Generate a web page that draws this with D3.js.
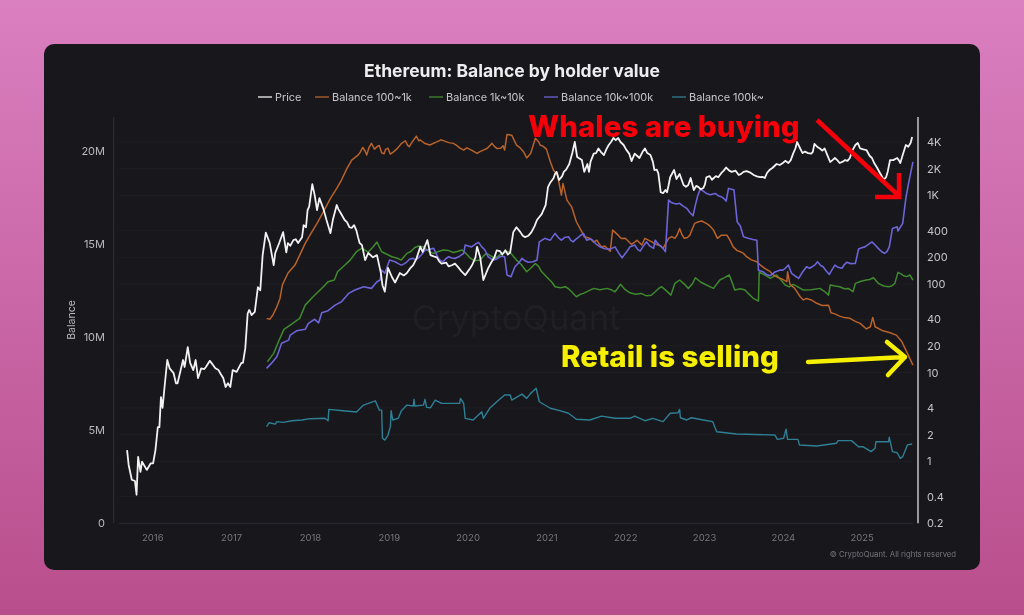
<!DOCTYPE html>
<html>
<head>
<meta charset="utf-8">
<title>Ethereum: Balance by holder value</title>
<script src="https://cdn.jsdelivr.net/npm/d3@7"></script>
<style>
  html, body { margin: 0; padding: 0; width: 1024px; height: 615px; overflow: hidden; }
  body { background: linear-gradient(#da7fc0, #b94e8c); }
  svg { display: block; font-family: Inter, "Liberation Sans", sans-serif; filter: blur(0.3px); }
</style>
</head>
<body>
<svg id="chart" width="1024" height="615"></svg>
<script>
// values: [year, price in USD] and [year, balance in millions]
var yearTicks = [2016, 2017, 2018, 2019, 2020, 2021, 2022, 2023, 2024, 2025];
var balanceTicks = [0, 5, 10, 15, 20];
var priceTicks = [0.2, 0.4, 1, 2, 4, 10, 20, 40, 100, 200, 400, 1000, 2000, 4000];
var seriesNames = ["Price", "Balance 100~1k", "Balance 1k~10k", "Balance 10k~100k", "Balance 100k~"];

var priceMain = [[2015.68,1.34],[2015.70,0.91],[2015.74,0.62],[2015.78,0.60],[2015.80,0.42],[2015.82,1.12],[2015.85,0.76],[2015.87,0.99],[2015.93,0.80],[2015.98,0.95],
  [2016.01,0.95],[2016.04,1.34],[2016.07,2.43],[2016.09,2.43],[2016.11,5.3],[2016.13,4.0],[2016.16,7.6],[2016.19,13.9],[2016.22,11.2],[2016.27,9.9],[2016.30,7.6],[2016.32,7.6],[2016.36,10.7],[2016.39,13.9],[2016.41,11.6],[2016.45,19.4],[2016.48,12.9],[2016.52,10.7],[2016.55,13.9],[2016.58,8.7],[2016.62,11.2],[2016.68,11.6],[2016.73,13.6],[2016.77,12.2],[2016.84,10.7],[2016.90,8.7],[2016.93,6.9],[2016.96,7.6],[2016.99,6.9],
  [2017.02,10.7],[2017.07,10.2],[2017.13,12.9],[2017.15,12.9],[2017.18,18.9],[2017.21,46.5],[2017.23,51],[2017.26,44.7],[2017.30,48.5],[2017.34,92],[2017.37,85],[2017.40,212],[2017.44,380],[2017.49,290],[2017.54,163],[2017.56,224],[2017.61,290],[2017.66,385],[2017.70,227],[2017.72,290],[2017.79,313],[2017.85,290],[2017.90,338],[2017.92,462],[2017.95,437],[2017.97,683],[2017.99,747],
  [2018.03,1340],[2018.06,1008],[2018.09,683],[2018.12,930],[2018.17,710],[2018.21,527],[2018.26,375],[2018.29,527],[2018.34,778],[2018.39,632],[2018.44,527],[2018.50,437],[2018.56,462],[2018.61,338],[2018.66,275],[2018.70,186],[2018.74,224],[2018.80,200],[2018.85,212],[2018.90,133],[2018.92,97],[2018.95,82],[2018.99,152],
  [2019.04,120],[2019.08,104],[2019.14,133],[2019.23,133],[2019.31,163],[2019.35,192],[2019.40,263],[2019.43,230],[2019.49,313],[2019.53,212],[2019.61,200],[2019.67,170],[2019.73,174],[2019.80,163],[2019.88,155],[2019.97,126],
  [2020.03,150],[2020.10,200],[2020.12,263],[2020.16,200],[2020.20,111],[2020.26,150],[2020.34,200],[2020.41,235],[2020.54,227],[2020.58,385],[2020.62,437],[2020.67,385],[2020.73,338],[2020.81,385],[2020.88,527],[2020.94,615],[2020.99,778],
  [2021.02,1240],[2021.09,1560],[2021.13,1840],[2021.16,1489],[2021.22,1840],[2021.29,2260],[2021.33,3040],[2021.36,4000],[2021.39,2710],[2021.45,2504],[2021.48,1840],[2021.52,2260],[2021.54,1840],[2021.60,2960],[2021.66,3380],[2021.73,2852],[2021.79,3698],[2021.85,4440],[2021.91,4440],[2021.98,3698],
  [2022.05,2960],[2022.08,2440],[2022.12,2960],[2022.18,2640],[2022.25,3380],[2022.32,2852],[2022.37,1931],[2022.42,1770],[2022.45,1085],[2022.48,1060],[2022.53,1085],[2022.57,1600],[2022.62,1931],[2022.65,1530],[2022.69,1740],[2022.74,1308],[2022.80,1308],[2022.83,1570],[2022.87,1148],[2022.93,1240],[2022.99,1210],
  [2023.03,1600],[2023.12,1560],[2023.18,1600],[2023.22,1790],[2023.28,2060],[2023.35,1840],[2023.44,1696],[2023.50,1840],[2023.54,1880],[2023.63,1696],[2023.71,1610],[2023.77,1570],[2023.83,1931],[2023.92,2260],
  [2024.00,2320],[2024.07,2320],[2024.13,2960],[2024.18,4000],[2024.22,3380],[2024.28,3120],[2024.36,2960],[2024.40,3800],[2024.47,3380],[2024.53,3380],[2024.60,2380],[2024.66,2640],[2024.72,2320],[2024.79,2504],[2024.85,2640],[2024.92,3698],[2024.98,3380],
  [2025.06,3248],[2025.13,2640],[2025.19,2090],[2025.26,1610],[2025.31,1610],[2025.36,2504],[2025.45,2640],[2025.49,2320],[2025.52,2852],[2025.56,3698],[2025.59,3540],[2025.64,4550]];
// smaller wiggles estimated between the main turning points
var priceFine = [[2016.60,9.8],[2016.66,11.0],[2016.75,12.9],[2016.80,11.2],[2016.87,9.6],[2017.75,270],[2017.82,320],[2018.36,700],[2018.47,500],[2018.53,430],[2018.59,400],[2018.63,290],
  [2019.19,125],[2019.27,150],[2019.57,205],[2019.64,180],[2019.76,158],[2019.84,170],[2019.92,140],[2020.06,165],[2020.30,175],[2020.37,240],[2020.44,215],[2020.48,240],[2020.51,215],[2020.70,350],[2020.77,350],[2020.85,450],
  [2021.05,1400],[2021.11,1750],[2021.20,1650],[2021.25,1950],[2021.56,2400],[2021.63,3000],[2021.69,3100],[2021.76,3300],[2021.82,4000],[2021.88,4200],[2021.94,4000],[2022.01,3300],[2022.15,2800],[2022.22,3100],[2022.28,3000],[2022.35,2400],[2022.40,1950],
  [2022.51,1150],[2022.55,1300],[2022.77,1250],[2022.90,1280],[2022.96,1170],[2023.01,1320],[2023.07,1650],[2023.10,1500],[2023.15,1650],[2023.25,1900],[2023.32,1900],[2023.40,1900],[2023.47,1750],[2023.58,1820],[2023.67,1640],[2023.74,1620],[2023.80,1800],[2023.87,2050],[2023.96,2200],
  [2024.03,2450],[2024.10,2500],[2024.16,3400],[2024.25,3000],[2024.32,3000],[2024.38,3100],[2024.44,3500],[2024.50,3200],[2024.56,2900],[2024.63,2500],[2024.69,2500],[2024.76,2400],[2024.82,2450],[2024.88,3200],[2024.95,3900],[2025.02,3300],[2025.10,2800],[2025.16,2300],[2025.23,1800],[2025.28,1500],[2025.33,1850],[2025.40,2500],[2025.47,2500],[2025.62,3900]];

var orangeMain = [[2017.45,11.01],[2017.49,10.96],[2017.53,11.19],[2017.58,11.63],[2017.62,12.08],[2017.65,12.80],[2017.72,13.43],[2017.81,13.87],[2017.87,14.41],[2017.94,15.04],
  [2018.00,15.48],[2018.09,16.11],[2018.17,16.73],[2018.26,17.45],[2018.34,17.99],[2018.40,18.44],[2018.47,19.07],[2018.53,19.51],[2018.61,19.78],[2018.67,20.19],[2018.72,19.78],[2018.78,20.41],[2018.85,20.23],[2018.91,19.90],[2018.96,20.09],
  [2019.02,19.83],[2019.11,20.14],[2019.21,20.55],[2019.26,20.23],[2019.35,20.80],[2019.40,20.59],[2019.52,20.32],[2019.61,20.49],[2019.71,20.53],[2019.82,20.41],[2019.90,20.17],[2019.99,20.17],
  [2020.12,19.87],[2020.20,20.05],[2020.31,20.41],[2020.37,20.14],[2020.45,20.28],[2020.47,20.05],[2020.50,20.89],[2020.56,20.85],[2020.62,20.32],[2020.71,19.96],[2020.75,19.63],[2020.80,19.87],[2020.86,20.68],[2020.92,20.32],
  [2021.00,20.10],[2021.05,19.42],[2021.09,18.97],[2021.14,18.71],[2021.19,17.63],[2021.21,18.26],[2021.26,17.36],[2021.32,17.0],[2021.38,16.20],[2021.45,15.66],[2021.48,15.39],[2021.55,15.31],[2021.64,15.21],[2021.70,14.85],[2021.77,14.77],[2021.81,14.62],[2021.84,15.75],[2021.91,15.48],
  [2022.00,15.31],[2022.08,14.98],[2022.15,15.21],[2022.21,14.95],[2022.25,15.31],[2022.34,15.12],[2022.42,14.95],[2022.48,14.77],[2022.55,15.31],[2022.63,15.31],[2022.69,15.84],[2022.75,15.31],[2022.82,15.48],[2022.88,16.11],[2022.97,16.24],
  [2023.05,16.06],[2023.12,15.75],[2023.17,15.31],[2023.22,15.48],[2023.29,15.48],[2023.37,14.85],[2023.46,14.59],[2023.54,14.32],[2023.67,14.05],[2023.77,13.70],[2023.88,13.34],[2023.99,13.12],
  [2024.05,12.98],[2024.06,13.51],[2024.09,12.84],[2024.15,12.62],[2024.22,12.17],[2024.30,12.08],[2024.43,11.82],[2024.58,11.72],[2024.61,11.31],[2024.72,11.13],[2024.85,11.01],[2024.98,10.74],
  [2025.06,10.44],[2025.11,10.56],[2025.14,11.06],[2025.17,10.56],[2025.27,10.34],[2025.44,10.11],[2025.51,9.75],[2025.57,9.22],[2025.65,8.50]];
var orangeFine = [[2018.64,19.95],[2018.70,20.0],[2018.75,20.2],[2018.82,20.1],[2018.88,20.3],[2018.94,19.85],[2018.99,20.15],[2019.06,19.95],[2019.16,20.4],[2019.24,20.3],[2019.30,20.5],[2019.38,20.55],[2019.46,20.4],[2019.56,20.4],[2019.66,20.6],[2019.76,20.45],[2019.86,20.3],[2019.95,20.05],
  [2020.05,20.05],[2020.15,19.95],[2020.25,20.15],[2020.34,20.25],[2020.42,20.15],[2020.66,20.2],[2020.90,20.5],[2020.96,20.25],[2021.60,15.1],[2021.67,15.0],[2021.74,14.9],[2021.95,15.3],[2022.04,15.15],[2022.12,15.1],[2022.30,15.2],[2022.38,15.0],[2022.45,14.9],[2022.59,15.4],[2022.66,15.5],[2022.72,15.5],[2022.79,15.35],[2022.85,15.8],[2022.93,16.2],
  [2023.01,16.15],[2023.09,15.9],[2023.33,15.2],[2023.42,14.65],[2023.50,14.5],[2023.60,14.15],[2023.72,13.85],[2023.83,13.55],[2023.94,13.2],[2024.26,12.0],[2024.36,12.0],[2024.50,11.7],[2024.66,11.25],[2024.78,11.05],[2024.92,10.85],[2025.35,10.25]];

var greenMain = [[2017.46,8.68],[2017.54,9.13],[2017.60,9.75],[2017.67,10.42],[2017.75,10.65],[2017.87,11.01],[2017.94,11.72],
  [2018.04,12.17],[2018.17,12.71],[2018.23,12.98],[2018.31,13.07],[2018.35,13.51],[2018.42,13.78],[2018.51,14.14],[2018.59,14.59],[2018.66,14.78],[2018.74,14.57],[2018.80,14.84],[2018.85,15.11],[2018.91,14.59],
  [2019.04,14.32],[2019.16,14.14],[2019.23,14.50],[2019.33,14.82],[2019.44,14.85],[2019.52,14.57],[2019.57,14.50],[2019.69,14.68],[2019.82,14.55],[2019.93,14.68],
  [2020.03,14.26],[2020.16,14.14],[2020.24,14.50],[2020.35,14.23],[2020.45,14.50],[2020.54,14.55],[2020.62,14.14],[2020.75,13.51],[2020.86,13.96],[2020.94,13.51],
  [2021.02,13.16],[2021.11,12.71],[2021.24,12.71],[2021.32,12.44],[2021.38,12.17],[2021.47,12.35],[2021.60,12.62],[2021.77,12.62],[2021.87,12.44],[2021.94,12.84],
  [2022.06,12.38],[2022.27,12.22],[2022.38,12.44],[2022.46,12.71],[2022.58,12.26],[2022.63,12.89],[2022.69,13.07],[2022.80,12.62],[2022.89,13.19],
  [2023.03,12.80],[2023.12,12.62],[2023.20,13.07],[2023.32,13.34],[2023.39,12.53],[2023.52,12.53],[2023.56,12.35],[2023.69,11.94],[2023.70,13.51],[2023.77,13.34],[2023.84,13.16],[2023.92,13.34],
  [2024.03,12.80],[2024.13,12.84],[2024.26,12.53],[2024.47,12.62],[2024.58,12.26],[2024.60,12.80],[2024.72,12.71],[2024.83,12.62],[2024.89,12.44],[2024.92,12.89],
  [2025.06,13.07],[2025.15,13.19],[2025.21,12.89],[2025.34,12.71],[2025.42,12.89],[2025.46,13.48],[2025.53,13.30],[2025.61,13.34],[2025.65,13.07]];
var greenFine = [[2019.10,14.25],[2019.28,14.6],[2019.38,14.9],[2019.48,14.7],[2019.63,14.6],[2019.76,14.65],[2019.87,14.6],[2019.98,14.5],[2020.09,14.1],[2020.20,14.35],[2020.30,14.35],[2020.40,14.4],[2020.50,14.6],[2020.68,13.9],[2020.80,13.7],[2020.90,13.8],
  [2021.07,12.95],[2021.18,12.65],[2021.28,12.6],[2021.43,12.3],[2021.54,12.5],[2021.68,12.55],[2021.82,12.55],[2021.90,12.6],[2022.00,12.55],[2022.13,12.3],[2022.20,12.35],[2022.33,12.25],[2022.42,12.6],[2022.52,12.5],[2022.75,12.85],[2022.85,12.85],[2022.96,12.95],
  [2023.08,12.7],[2023.16,12.85],[2023.26,13.2],[2023.36,12.9],[2023.46,12.6],[2023.62,12.1],[2024.08,12.7],[2024.19,12.7],[2024.36,12.55],[2024.53,12.45],[2024.66,12.75],[2024.78,12.6],[2024.99,13.0],[2025.10,13.1],[2025.28,12.75],[2025.38,12.75],[2025.50,13.4],[2025.57,13.25]];

var purpleMain = [[2017.45,8.32],[2017.51,8.59],[2017.58,8.95],[2017.64,9.67],[2017.73,9.84],[2017.75,10.11],[2017.83,10.34],[2017.94,10.42],[2017.98,10.74],
  [2018.06,10.96],[2018.11,10.77],[2018.15,11.31],[2018.23,11.42],[2018.32,11.72],[2018.40,11.90],[2018.49,12.35],[2018.57,12.53],[2018.68,12.71],[2018.78,12.62],[2018.85,12.98],[2018.89,13.07],[2018.91,13.60],[2018.95,13.43],
  [2019.01,14.14],[2019.08,14.05],[2019.16,13.87],[2019.23,14.05],[2019.31,14.23],[2019.37,14.23],[2019.46,14.68],[2019.50,14.68],[2019.57,14.77],[2019.63,14.23],[2019.69,14.05],[2019.76,14.32],[2019.84,14.23],[2019.95,14.50],[2019.97,14.95],
  [2020.05,14.85],[2020.14,15.09],[2020.22,14.68],[2020.26,14.32],[2020.33,14.14],[2020.41,14.32],[2020.47,14.32],[2020.50,13.34],[2020.55,13.24],[2020.60,13.78],[2020.69,14.23],[2020.77,14.02],[2020.88,14.14],[2020.91,15.12],[2020.98,15.31],
  [2021.05,15.21],[2021.11,15.57],[2021.19,15.21],[2021.28,15.39],[2021.34,15.12],[2021.40,15.34],[2021.47,15.57],[2021.51,15.21],[2021.57,15.27],[2021.68,14.85],[2021.81,14.73],[2021.87,14.85],[2021.96,14.26],
  [2022.06,14.85],[2022.12,14.95],[2022.19,14.62],[2022.27,15.12],[2022.36,14.77],[2022.38,15.21],[2022.48,14.77],[2022.51,14.59],[2022.55,17.36],[2022.61,17.19],[2022.69,17.19],[2022.78,16.92],[2022.86,16.52],[2022.89,17.09],[2022.95,17.95],
  [2023.03,17.72],[2023.14,17.72],[2023.22,17.54],[2023.28,17.31],[2023.31,17.99],[2023.38,17.90],[2023.42,16.20],[2023.46,15.97],[2023.50,15.39],[2023.56,15.31],[2023.67,15.21],[2023.69,13.60],[2023.75,13.51],[2023.84,13.30],[2023.96,13.60],
  [2024.03,13.70],[2024.07,13.87],[2024.11,13.43],[2024.20,13.16],[2024.30,13.78],[2024.37,13.78],[2024.44,14.05],[2024.51,13.78],[2024.59,13.37],[2024.66,13.87],[2024.75,13.70],[2024.81,14.02],[2024.92,13.96],[2024.96,14.73],
  [2025.04,14.85],[2025.13,15.12],[2025.21,14.77],[2025.29,14.50],[2025.35,14.85],[2025.39,15.84],[2025.45,15.93],[2025.46,15.70],[2025.52,16.11],[2025.56,17.45],[2025.59,18.17],[2025.65,19.42]];
var purpleFine = [[2019.12,13.95],[2019.20,13.95],[2019.27,14.2],[2019.34,14.15],[2019.42,14.45],[2019.54,14.75],[2019.60,14.5],[2019.66,14.1],[2019.72,14.2],[2019.80,14.25],[2019.90,14.35],[2020.01,14.9],[2020.10,15.0],[2020.18,14.85],[2020.30,14.2],[2020.37,14.2],[2020.44,14.35],[2020.65,14.0],[2020.73,14.1],[2020.83,14.05],
  [2021.02,15.25],[2021.08,15.4],[2021.15,15.35],[2021.23,15.35],[2021.31,15.2],[2021.37,15.25],[2021.43,15.45],[2021.54,15.25],[2021.63,15.0],[2021.74,14.75],[2021.92,14.5],[2022.02,14.6],[2022.09,14.9],[2022.16,14.7],[2022.23,14.9],[2022.31,14.9],[2022.42,15.0],[2022.58,17.25],[2022.65,17.15],[2022.73,17.05],[2022.82,16.7],[2022.92,17.6],[2022.99,17.85],
  [2023.08,17.65],[2023.18,17.6],[2023.25,17.45],[2023.35,17.95],[2023.53,15.35],[2023.62,15.25],[2023.72,13.55],[2023.80,13.35],[2023.90,13.5],[2024.00,13.6],[2024.15,13.3],[2024.25,13.5],[2024.34,13.7],[2024.41,13.9],[2024.48,13.85],[2024.55,13.55],[2024.62,13.6],[2024.70,13.75],[2024.78,13.9],[2024.86,13.95],[2025.00,14.8],[2025.09,15.0],[2025.17,14.95],[2025.25,14.6],[2025.32,14.6]];

var balance100kUp = [[2017.45,5.19],[2017.48,5.40],[2017.56,5.33],[2017.58,5.46],[2017.66,5.42],[2017.77,5.51],[2017.90,5.55],
  [2018.00,5.62],[2018.19,5.64],[2018.23,5.51],[2018.24,6.12],[2018.42,6.05],[2018.59,5.98],[2018.68,6.35],[2018.83,6.58],[2018.88,6.08],[2018.91,6.08],[2018.92,4.57],[2018.95,4.47],[2018.99,4.74],
  [2019.02,5.19],[2019.03,6.05],[2019.05,5.55],[2019.12,5.64],[2019.16,6.05],[2019.23,6.35],[2019.31,6.30],[2019.32,6.66],[2019.33,6.30],[2019.44,6.35],[2019.46,6.66],[2019.48,6.23],[2019.53,6.21],[2019.59,6.62],[2019.67,6.44],[2019.90,6.44],[2019.91,6.71],[2019.95,6.44],[2019.97,5.64],
  [2020.07,5.55],[2020.18,5.99],[2020.20,5.64],[2020.28,6.18],[2020.37,6.53],[2020.47,6.89],[2020.54,6.89],[2020.56,6.62],[2020.69,6.94],[2020.75,6.71],[2020.80,6.98],[2020.87,7.25],[2020.91,6.53],
  [2021.05,6.18],[2021.17,6.05],[2021.28,5.91],[2021.38,5.59],[2021.55,5.55],[2021.70,5.76],[2021.87,5.64],
  [2022.06,5.64],[2022.12,5.76],[2022.25,5.51],[2022.35,5.64],[2022.48,5.46],[2022.57,5.91],[2022.67,5.94],[2022.69,6.12],[2022.70,5.67],[2022.78,5.55],[2022.84,5.67],[2022.99,5.55],
  [2023.11,5.46],[2023.16,4.92],[2023.41,4.80],[2023.90,4.74],[2023.93,4.51],
  [2024.01,4.57],[2024.04,5.06],[2024.06,4.51],[2024.19,4.51],[2024.21,4.21],[2024.43,4.15],[2024.68,4.30],[2024.70,4.44],[2024.87,4.44],[2024.96,4.11],
  [2025.02,4.11],[2025.12,3.85],[2025.17,4.03],[2025.18,4.38],[2025.34,4.38],[2025.35,4.62],[2025.39,3.85],[2025.45,3.79],[2025.49,3.49],[2025.52,3.58],[2025.58,4.21],[2025.64,4.26]];

function merged(a, b){
  return a.concat(b).sort(function(p, q){ return d3.ascending(p[0], q[0]); });
}
var price = merged(priceMain, priceFine);
var balance100to1k = merged(orangeMain, orangeFine);
var balance1kto10k = merged(greenMain, greenFine);
var balance10kto100k = merged(purpleMain, purpleFine);

var svg = d3.select("#chart");

// dark card
svg.append("rect").attr("x", 44).attr("y", 44).attr("width", 936).attr("height", 526).attr("rx", 10).attr("fill", "#17171c");

var xScale = d3.scaleLinear().domain([2016, 2025]).range([152.3, 861.7]);
var yLeft = d3.scaleLinear().domain([0, 20]).range([523.3, 151]);
var yRight = d3.scaleLog().domain([0.2, 4000]).range([523.3, 142]);

// gridlines follow the price axis
svg.append("g").selectAll("line").data(priceTicks.slice(1)).enter().append("line")
  .attr("x1", 119).attr("x2", 913)
  .attr("y1", function(d){ return yRight(d); })
  .attr("y2", function(d){ return yRight(d); })
  .attr("stroke", "#fff").attr("stroke-opacity", 0.03);

svg.append("line").attr("x1", 119).attr("x2", 913).attr("y1", 523.3).attr("y2", 523.3).attr("stroke", "#2c2c32");
svg.append("line").attr("x1", 113.7).attr("x2", 113.7).attr("y1", 117).attr("y2", 523.3).attr("stroke", "#303036");
svg.append("line").attr("x1", 918).attr("x2", 918).attr("y1", 117).attr("y2", 523.3).attr("stroke", "#f0f0f0").attr("stroke-width", 1.2);

// watermark sits behind the lines
svg.append("text").attr("x", 516).attr("y", 330).attr("text-anchor", "middle")
  .attr("font-size", 34.5).attr("fill", "#1f1f24").text("CryptoQuant");

var xAxis = d3.axisBottom(xScale).tickValues(yearTicks).tickFormat(d3.format("d")).tickSize(0).tickPadding(11);
var leftAxis = d3.axisLeft(yLeft).tickValues(balanceTicks).tickFormat(function(d){ return d === 0 ? "0" : d + "M"; }).tickSize(0);
var rightAxis = d3.axisRight(yRight).tickValues(priceTicks).tickFormat(function(d){ return d >= 1000 ? (d / 1000) + "K" : d; }).tickSize(0);

var xg = svg.append("g").attr("transform", "translate(0,523.3)").call(xAxis);
xg.select(".domain").remove();
xg.selectAll("text").attr("fill", "#77777c").attr("font-size", 9.5).attr("font-family", "Inter");

var lg = svg.append("g").attr("transform", "translate(105,0)").call(leftAxis);
lg.select(".domain").remove();
lg.selectAll("text").attr("x", 0).attr("fill", "#b9b9bd").attr("font-size", 11).attr("font-family", "Inter");

var rg = svg.append("g").attr("transform", "translate(927,0)").call(rightAxis);
rg.select(".domain").remove();
rg.selectAll("text").attr("x", 0).attr("fill", "#c4c4c8").attr("font-size", 11).attr("font-family", "Inter");

svg.append("text").attr("transform", "translate(75,320) rotate(-90)").attr("text-anchor", "middle")
  .attr("font-size", 10.5).attr("fill", "#b9b9bd").text("Balance");

// series
var lineLeft = d3.line().x(function(d){ return xScale(d[0]); }).y(function(d){ return yLeft(d[1]); });
var lineRight = d3.line().x(function(d){ return xScale(d[0]); }).y(function(d){ return yRight(d[1]); });
var colors = ["#f2f2f2", "#b9622a", "#3f8a2e", "#6c64d8", "#2f7f95"];

function drawSeries(data, gen, color, w){
  svg.append("path").datum(data).attr("d", gen).attr("fill", "none")
    .attr("stroke", color).attr("stroke-width", w).attr("stroke-linejoin", "round");
}
drawSeries(balance100kUp, lineLeft, colors[4], 1.4);
drawSeries(balance1kto10k, lineLeft, colors[2], 1.5);
drawSeries(balance100to1k, lineLeft, colors[1], 1.5);
drawSeries(balance10kto100k, lineLeft, colors[3], 1.6);
drawSeries(price, lineRight, colors[0], 1.8);

// title and legend
svg.append("text").attr("x", 512).attr("y", 77).attr("text-anchor", "middle")
  .attr("font-size", 17.5).attr("font-weight", 700).attr("fill", "#eeeef0").text("Ethereum: Balance by holder value");

var legendSwatch = [258, 315, 429, 544, 672];
seriesNames.forEach(function(name, i){
  svg.append("line").attr("x1", legendSwatch[i]).attr("x2", legendSwatch[i] + 14).attr("y1", 97).attr("y2", 97)
    .attr("stroke", colors[i]).attr("stroke-width", 1.3);
  svg.append("text").attr("x", legendSwatch[i] + 17).attr("y", 101).attr("font-size", 10.9)
    .attr("fill", "#c8c8cc").text(name);
});

svg.append("text").attr("x", 956).attr("y", 557).attr("text-anchor", "end")
  .attr("font-size", 7.7).attr("fill", "#77777c").text("© CryptoQuant. All rights reserved");

// hand drawn annotations on top
svg.append("text").attr("x", 528).attr("y", 137).attr("font-size", 29.5).attr("font-weight", 800)
  .attr("fill", "#f5000a").text("Whales are buying");
svg.append("path").attr("d", "M817,120L899,196M899,173L899,197L875,197").attr("fill", "none")
  .attr("stroke", "#f5000a").attr("stroke-width", 4.5);

svg.append("text").attr("x", 561).attr("y", 367).attr("font-size", 29.5).attr("font-weight", 800)
  .attr("fill", "#f6f000").text("Retail is selling");
svg.append("path").attr("d", "M808,362L905,357M887,342L905,357L888,375").attr("fill", "none")
  .attr("stroke", "#f6f000").attr("stroke-width", 4.5).attr("stroke-linecap", "round").attr("stroke-linejoin", "round");
</script>
</body>
</html>
